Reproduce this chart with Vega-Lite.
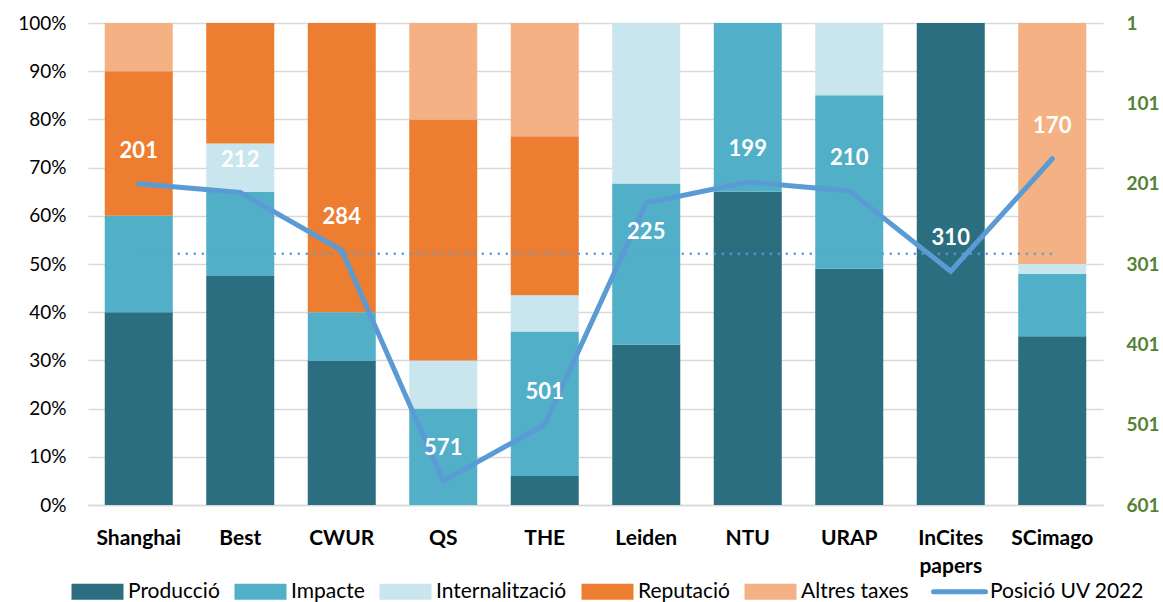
{
  "$schema": "https://vega.github.io/schema/vega-lite/v6.json",
  "width": 1015,
  "height": 482,
  "autosize": "none",
  "padding": {"left": 88, "top": 23, "right": 60, "bottom": 97},
  "background": "white",
  "config": {
    "view": {"stroke": null},
    "font": "Lato",
    "axis": {"labelFont": "Lato", "titleFont": "Lato"},
    "legend": {"labelFont": "Lato"}
  },
  "datasets": {
    "bars": [
      {"ranking": "Shanghai", "component": "Producció", "ordre": 1, "pct": 40},
      {"ranking": "Shanghai", "component": "Impacte", "ordre": 2, "pct": 20},
      {"ranking": "Shanghai", "component": "Reputació", "ordre": 4, "pct": 30},
      {"ranking": "Shanghai", "component": "Altres taxes", "ordre": 5, "pct": 10},
      {"ranking": "Best", "component": "Producció", "ordre": 1, "pct": 47.5},
      {"ranking": "Best", "component": "Impacte", "ordre": 2, "pct": 17.5},
      {"ranking": "Best", "component": "Internalització", "ordre": 3, "pct": 10},
      {"ranking": "Best", "component": "Reputació", "ordre": 4, "pct": 25},
      {"ranking": "CWUR", "component": "Producció", "ordre": 1, "pct": 30},
      {"ranking": "CWUR", "component": "Impacte", "ordre": 2, "pct": 10},
      {"ranking": "CWUR", "component": "Reputació", "ordre": 4, "pct": 60},
      {"ranking": "QS", "component": "Impacte", "ordre": 2, "pct": 20},
      {"ranking": "QS", "component": "Internalització", "ordre": 3, "pct": 10},
      {"ranking": "QS", "component": "Reputació", "ordre": 4, "pct": 50},
      {"ranking": "QS", "component": "Altres taxes", "ordre": 5, "pct": 20},
      {"ranking": "THE", "component": "Producció", "ordre": 1, "pct": 6},
      {"ranking": "THE", "component": "Impacte", "ordre": 2, "pct": 30},
      {"ranking": "THE", "component": "Internalització", "ordre": 3, "pct": 7.5},
      {"ranking": "THE", "component": "Reputació", "ordre": 4, "pct": 33},
      {"ranking": "THE", "component": "Altres taxes", "ordre": 5, "pct": 23.5},
      {"ranking": "Leiden", "component": "Producció", "ordre": 1, "pct": 33.3},
      {"ranking": "Leiden", "component": "Impacte", "ordre": 2, "pct": 33.4},
      {"ranking": "Leiden", "component": "Internalització", "ordre": 3, "pct": 33.3},
      {"ranking": "NTU", "component": "Producció", "ordre": 1, "pct": 65},
      {"ranking": "NTU", "component": "Impacte", "ordre": 2, "pct": 35},
      {"ranking": "URAP", "component": "Producció", "ordre": 1, "pct": 49},
      {"ranking": "URAP", "component": "Impacte", "ordre": 2, "pct": 36},
      {"ranking": "URAP", "component": "Internalització", "ordre": 3, "pct": 15},
      {"ranking": "InCites papers", "component": "Producció", "ordre": 1, "pct": 100},
      {"ranking": "SCimago", "component": "Producció", "ordre": 1, "pct": 35},
      {"ranking": "SCimago", "component": "Impacte", "ordre": 2, "pct": 13},
      {"ranking": "SCimago", "component": "Internalització", "ordre": 3, "pct": 2},
      {"ranking": "SCimago", "component": "Altres taxes", "ordre": 5, "pct": 50}
    ],
    "rank": [
      {"ranking": "Shanghai", "serie": "Posició UV 2022", "posicio": 201},
      {"ranking": "Best", "serie": "Posició UV 2022", "posicio": 212},
      {"ranking": "CWUR", "serie": "Posició UV 2022", "posicio": 284},
      {"ranking": "QS", "serie": "Posició UV 2022", "posicio": 571},
      {"ranking": "THE", "serie": "Posició UV 2022", "posicio": 501},
      {"ranking": "Leiden", "serie": "Posició UV 2022", "posicio": 225},
      {"ranking": "NTU", "serie": "Posició UV 2022", "posicio": 199},
      {"ranking": "URAP", "serie": "Posició UV 2022", "posicio": 210},
      {"ranking": "InCites papers", "serie": "Posició UV 2022", "posicio": 310},
      {"ranking": "SCimago", "serie": "Posició UV 2022", "posicio": 170}
    ]
  },
  "layer": [
    {
      "data": {"name": "bars"},
      "mark": {"type": "bar"},
      "encoding": {
        "x": {
          "field": "ranking", "type": "nominal",
          "sort": ["Shanghai", "Best", "CWUR", "QS", "THE", "Leiden", "NTU", "URAP", "InCites papers", "SCimago"],
          "scale": {"paddingInner": 0.33, "paddingOuter": 0.165},
          "axis": {
            "title": null, "labelAngle": 0, "labelFontSize": 21, "labelFontWeight": "bold",
            "labelColor": "#000000", "ticks": false, "domain": true, "domainColor": "#D9D9D9", "domainWidth": 1.5,
            "labelPadding": 33, "labelBaseline": "middle", "labelLineHeight": 28,
            "labelExpr": "datum.label == 'InCites papers' ? ['InCites', 'papers'] : datum.label"
          }
        },
        "y": {
          "field": "pct", "type": "quantitative", "stack": "zero",
          "scale": {"domain": [0, 100], "nice": false},
          "axis": {
            "title": null, "values": [0, 10, 20, 30, 40, 50, 60, 70, 80, 90, 100],
            "labelExpr": "datum.value + '%'", "labelFontSize": 19, "labelColor": "#000000",
            "ticks": false, "domain": false, "labelPadding": 22,
            "grid": true, "gridColor": "#D9D9D9", "gridWidth": 1.5
          }
        },
        "order": {"field": "ordre", "type": "quantitative"},
        "color": {
          "field": "component", "type": "nominal",
          "scale": {
            "domain": ["Producció", "Impacte", "Internalització", "Reputació", "Altres taxes", "Posició UV 2022"],
            "range": ["#2A6E7F", "#52AFC8", "#C9E6EE", "#ED7D31", "#F4B183", "#5B9BD5"]
          },
          "legend": {
            "title": null, "orient": "none", "direction": "horizontal",
            "legendX": -1, "legendY": 558,
            "labelFontSize": 21, "labelColor": "#000000", "labelOffset": 20, "columnPadding": 14,
            "symbolType": "M-1,-0.31H1V0.31H-1Z", "symbolSize": 2704, "symbolStrokeWidth": 0,
            "encode": {
              "symbols": {
                "update": {
                  "shape": {"signal": "datum.value === 'Posició UV 2022' ? 'M-1,0H1' : 'M-1,-0.31H1V0.31H-1Z'"},
                  "stroke": {"signal": "datum.value === 'Posició UV 2022' ? '#5B9BD5' : 'transparent'"},
                  "strokeWidth": {"signal": "datum.value === 'Posició UV 2022' ? 5 : 0"},
                  "strokeCap": {"value": "round"},
                  "opacity": {"value": 1}
                }
              }
            }
          }
        }
      }
    },
    {
      "data": {"name": "rank"},
      "transform": [{"joinaggregate": [{"op": "mean", "field": "posicio", "as": "mitjana"}]}],
      "encoding": {
        "x": {
          "field": "ranking", "type": "nominal",
          "sort": ["Shanghai", "Best", "CWUR", "QS", "THE", "Leiden", "NTU", "URAP", "InCites papers", "SCimago"]
        }
      },
      "layer": [
        {
          "mark": {"type": "line", "strokeWidth": 5, "strokeCap": "round", "strokeJoin": "miter"},
          "encoding": {
            "y": {
              "field": "posicio", "type": "quantitative",
              "scale": {"domain": [1, 601], "reverse": true, "nice": false, "zero": false},
              "axis": {
                "orient": "right", "title": null, "values": [1, 101, 201, 301, 401, 501, 601],
                "labelFontSize": 19, "labelFontWeight": "bold", "labelColor": "#548235",
                "ticks": false, "domain": false, "grid": false, "labelPadding": 23
              }
            },
            "color": {"field": "serie", "type": "nominal"}
          }
        },
        {
          "mark": {"type": "line", "strokeWidth": 2.5, "strokeDash": [0.1, 7.9], "strokeCap": "round", "color": "#5B9BD5"},
          "encoding": {
            "y": {"field": "mitjana", "type": "quantitative"}
          }
        },
        {
          "transform": [{"filter": "datum.ranking != 'Leiden'"}],
          "mark": {"type": "text", "dy": -33, "fontSize": 22, "fontWeight": "bold", "color": "white", "font": "Lato"},
          "encoding": {
            "y": {"field": "posicio", "type": "quantitative"},
            "text": {"field": "posicio", "type": "quantitative"}
          }
        },
        {
          "transform": [{"filter": "datum.ranking == 'Leiden'"}],
          "mark": {"type": "text", "dy": 29, "fontSize": 22, "fontWeight": "bold", "color": "white", "font": "Lato"},
          "encoding": {
            "y": {"field": "posicio", "type": "quantitative"},
            "text": {"field": "posicio", "type": "quantitative"}
          }
        }
      ]
    }
  ],
  "resolve": {"scale": {"y": "independent"}}
}
